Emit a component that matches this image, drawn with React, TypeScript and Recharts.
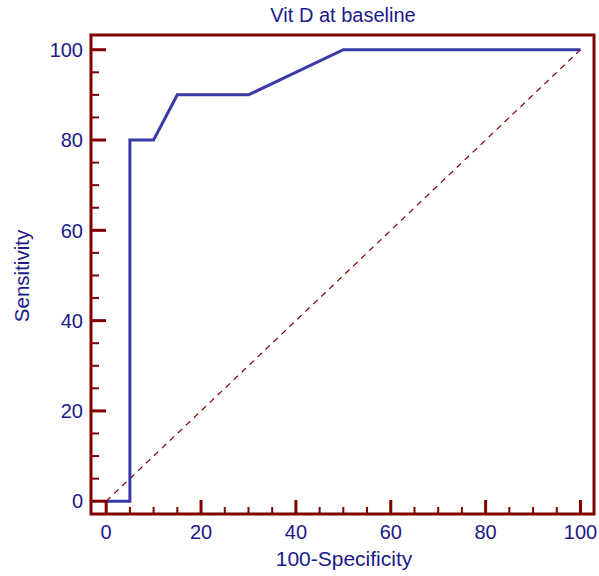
import React from 'react'
import { LineChart, Line, XAxis, YAxis, ReferenceLine, ReferenceArea } from 'recharts'

// ROC curve points
const fpr = [0, 5, 5, 10, 15, 30, 50, 100]
const sensitivity = [0, 0, 80, 80, 90, 90, 100, 100]

const majorTicks = [0, 20, 40, 60, 80, 100]
const minorTicks = [5, 10, 15, 25, 30, 35, 45, 50, 55, 65, 70, 75, 85, 90, 95]

const maroon = '#800000'
const navy = '#1a1a8a'
const curveColor = '#3a3aa6'
const font = '"Liberation Sans", Arial, sans-serif'

const xDomain: [number, number] = [-3.2, 102.85]
const yDomain: [number, number] = [-2.83, 103.26]

const allTicks = [...majorTicks, ...minorTicks].sort((a, b) => a - b)

function XTick(props: any) {
  const { x, y, payload } = props
  const major = majorTicks.includes(payload.value)
  return (
    <g>
      <line x1={x} y1={y} x2={x} y2={y - (major ? 14 : 7)} stroke={maroon} strokeWidth={major ? 3 : 2} />
      {major && (
        <text x={x} y={y + 25} textAnchor="middle" fill={navy} fontSize={20} fontFamily={font}>
          {payload.value}
        </text>
      )}
    </g>
  )
}

function YTick(props: any) {
  const { x, y, payload } = props
  const major = majorTicks.includes(payload.value)
  return (
    <g>
      <line x1={x} y1={y} x2={x + (major ? 15 : 8)} y2={y} stroke={maroon} strokeWidth={major ? 3 : 2} />
      {major && (
        <text x={x - 8} y={y} dy="0.36em" textAnchor="end" fill={navy} fontSize={20} fontFamily={font}>
          {payload.value}
        </text>
      )}
    </g>
  )
}

export default function App() {
  const data = fpr.map((x, i) => ({ x, y: sensitivity[i] }))

  return (
    <div style={{ position: 'absolute', left: 0, top: 0, width: 599, height: 576, background: '#fff' }}>
      <LineChart width={599} height={576} data={data} margin={{ top: 35, right: 5, bottom: 22, left: 31 }}>
        <XAxis
          type="number"
          dataKey="x"
          domain={xDomain}
          allowDataOverflow
          ticks={allTicks}
          interval={0}
          tickSize={0}
          tickMargin={0}
          tickLine={false}
          axisLine={false}
          tick={<XTick />}
          height={40}
        />
        <YAxis
          type="number"
          dataKey="y"
          domain={yDomain}
          allowDataOverflow
          ticks={allTicks}
          interval={0}
          tickSize={0}
          tickMargin={0}
          tickLine={false}
          axisLine={false}
          tick={<YTick />}
          width={60}
        />
        <ReferenceLine
          segment={[{ x: 0, y: 0 }, { x: 100, y: 100 }]}
          stroke={maroon}
          strokeWidth={1.2}
          strokeDasharray="6 5"
        />
        <Line
          type="linear"
          dataKey="y"
          stroke={curveColor}
          strokeWidth={3}
          dot={false}
          isAnimationActive={false}
        />
        <ReferenceArea
          x1={xDomain[0]}
          x2={xDomain[1]}
          y1={yDomain[0]}
          y2={yDomain[1]}
          fill="none"
          fillOpacity={0}
          stroke={maroon}
          strokeWidth={3}
          ifOverflow="visible"
        />
      </LineChart>
      <svg width={599} height={576} style={{ position: 'absolute', left: 0, top: 0, pointerEvents: 'none' }}>
        <text x={343} y={22} textAnchor="middle" fill={navy} fontSize={20} fontFamily={font}>
          Vit D at baseline
        </text>
        <text x={344} y={566} textAnchor="middle" fill={navy} fontSize={21} fontFamily={font}>
          100-Specificity
        </text>
        <text
          x={0}
          y={0}
          transform="translate(29,276) rotate(-90)"
          textAnchor="middle"
          fill={navy}
          fontSize={20.5}
          fontFamily={font}
        >
          Sensitivity
        </text>
      </svg>
    </div>
  )
}
